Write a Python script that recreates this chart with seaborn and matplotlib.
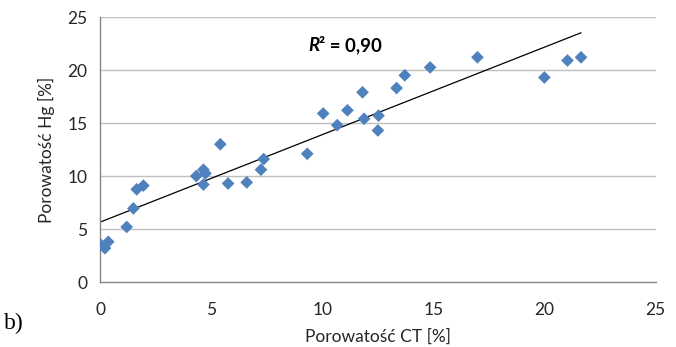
import pandas as pd
import matplotlib
matplotlib.use("Agg")
import matplotlib.pyplot as plt
import seaborn as sns

## values
porowatosc_ct = [0.05, 0.22, 0.37, 1.2, 1.5, 1.65, 1.95, 4.33, 4.65, 4.74, 4.65,
                 5.41, 5.76, 6.6, 7.24, 7.36, 9.32, 10.04, 10.67, 11.13, 11.81,
                 11.88, 12.53, 12.5, 13.34, 13.71, 14.85, 16.98, 19.99, 21.03, 21.64]
porowatosc_hg = [3.5, 3.2, 3.8, 5.2, 6.95, 8.75, 9.1, 10.0, 10.6, 10.25, 9.2,
                 13.0, 9.3, 9.4, 10.6, 11.6, 12.1, 15.9, 14.8, 16.2, 17.9,
                 15.4, 15.7, 14.3, 18.3, 19.5, 20.25, 21.2, 19.3, 20.9, 21.2]
ticks = [0, 5, 10, 15, 20, 25]
r2_label = "0,90"

df = pd.DataFrame({'ct': porowatosc_ct, 'hg': porowatosc_hg})

sns.set_style("white")
plt.rcParams['font.family'] = ['Lato', 'DejaVu Sans']

fig = plt.figure(figsize=(6.76, 3.47), dpi=100)
ax = fig.add_axes([0.148, 0.187, 0.822, 0.764])

# gridlines behind the points
for t in ticks[1:]:
    ax.axhline(t, color='#bfbfbf', linewidth=1.0, zorder=0)

sns.scatterplot(data=df, x='ct', y='hg', marker='D', s=42, color='#4f81bd',
                edgecolor='none', ax=ax, zorder=3)
sns.regplot(data=df, x='ct', y='hg', scatter=False, ci=None, ax=ax,
            line_kws={'color': 'black', 'linewidth': 0.9, 'zorder': 2})

ax.set_xlim(0, 25)
ax.set_ylim(0, 25)
ax.set_xticks(ticks)
ax.set_yticks(ticks)
ax.tick_params(axis='both', direction='out', length=5, width=1, color='#868686',
               labelsize=12.5, labelcolor='#262626', pad=4)
ax.tick_params(axis='x', pad=9)

for side in ['top', 'right']:
    ax.spines[side].set_visible(False)
for side in ['left', 'bottom']:
    ax.spines[side].set_color('#868686')
    ax.spines[side].set_linewidth(1)

ax.set_xlabel('Porowatość CT [%]', fontsize=12.5, color='#262626', labelpad=8)
ax.set_ylabel('Porowatość Hg [%]', fontsize=12.5, color='#262626', labelpad=9)

# R^2 annotation
t1 = ax.text(9.35, 22.3, 'R', fontsize=13.5, fontweight='bold', fontstyle='italic',
             color='black', va='center')
ax.annotate('² = ' + r2_label, xy=(1, 0), xycoords=t1, va='bottom', ha='left',
            fontsize=13.5, fontweight='bold', color='black')

fig.text(0.006, 0.052, 'b)', fontsize=17, family='Liberation Serif', color='black')

fig.savefig('out.png', dpi=100)
